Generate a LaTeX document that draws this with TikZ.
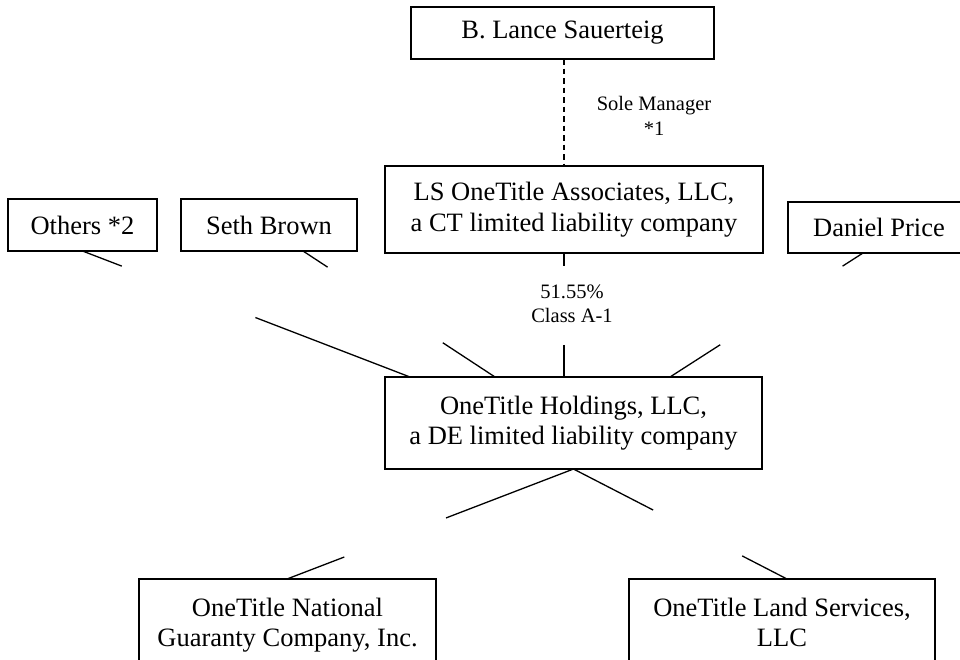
\documentclass[tikz,border=0pt]{standalone}
\usepackage{fontspec}
\setmainfont{Liberation Serif}
\usetikzlibrary{calc}
\begin{document}
\begin{tikzpicture}[x=1pt,y=-1pt,
  entity/.style={draw=black,line width=1.5pt,inner sep=0pt,align=center,
    font=\fontsize{26.5}{30.5}\selectfont},
  lbl/.style={inner sep=0pt,align=center,font=\fontsize{20.5}{24.5}\selectfont},
  link/.style={draw=black,line width=1.3pt},
  mgr/.style={draw=black,line width=1.3pt,dash pattern=on 5.5pt off 4pt}]
\useasboundingbox (0,0) rectangle (960,659);
% boxes
\node[entity,minimum width=303pt,minimum height=52pt] (lance) at (562.5,33) {B. Lance Sauerteig};
\node[entity,minimum width=378pt,minimum height=87pt] (ls) at (574,209.5) {LS OneTitle Associates, LLC,\\a CT limited liability company};
\node[entity,minimum width=149pt,minimum height=52pt] (others) at (82.5,225) {Others *2};
\node[entity,minimum width=176pt,minimum height=52pt] (seth) at (269,225) {Seth Brown};
\node[entity,minimum width=182pt,minimum height=51pt] (daniel) at (879,227.5) {Daniel Price};
\node[entity,minimum width=377pt,minimum height=92pt] (hold) at (573.5,423) {OneTitle Holdings, LLC,\\a DE limited liability company};
\node[entity,minimum width=297pt,minimum height=92pt] (natl) at (287.5,625) {OneTitle National\\Guaranty Company, Inc.};
\node[entity,minimum width=306pt,minimum height=92pt] (land) at (782,625) {OneTitle Land Services,\\LLC\vphantom{y,}};
% connector end points
\coordinate (lanceB) at (564,59);
\coordinate (lsT) at (564,166);
\coordinate (lsB) at (564,253);
\coordinate (holdTls) at (564,377);
\coordinate (othersB) at (82.5,251);
\coordinate (holdTo) at (410,377);
\coordinate (sethB) at (303,251);
\coordinate (holdTs) at (495,377);
\coordinate (danielB) at (863,253);
\coordinate (holdTd) at (670,377);
\coordinate (holdB) at (573.5,469);
\coordinate (natlT) at (287,579);
\coordinate (landT) at (787,579);
% connectors
\draw[mgr] (lanceB) -- (lsT);
\draw[link] (othersB) -- ($(othersB)!0.12!(holdTo)$) ($(othersB)!0.528!(holdTo)$) -- (holdTo);
\draw[link] (sethB) -- ($(sethB)!0.128!(holdTs)$) ($(sethB)!0.728!(holdTs)$) -- (holdTs);
\draw[link] (lsB) -- ($(lsB)!0.106!(holdTls)$) ($(lsB)!0.74!(holdTls)$) -- (holdTls);
\draw[link] (danielB) -- ($(danielB)!0.106!(holdTd)$) ($(danielB)!0.74!(holdTd)$) -- (holdTd);
\draw[link] (holdB) -- ($(holdB)!0.445!(natlT)$) ($(holdB)!0.8!(natlT)$) -- (natlT);
\draw[link] (holdB) -- ($(holdB)!0.373!(landT)$) ($(holdB)!0.79!(landT)$) -- (landT);
% labels
\node[lbl] (mgrlbl) at (654,116) {Sole Manager\\*1};
\node[lbl] (pctlbl) at (572,304) {51.55\%\\Class A-1};
\end{tikzpicture}
\end{document}
